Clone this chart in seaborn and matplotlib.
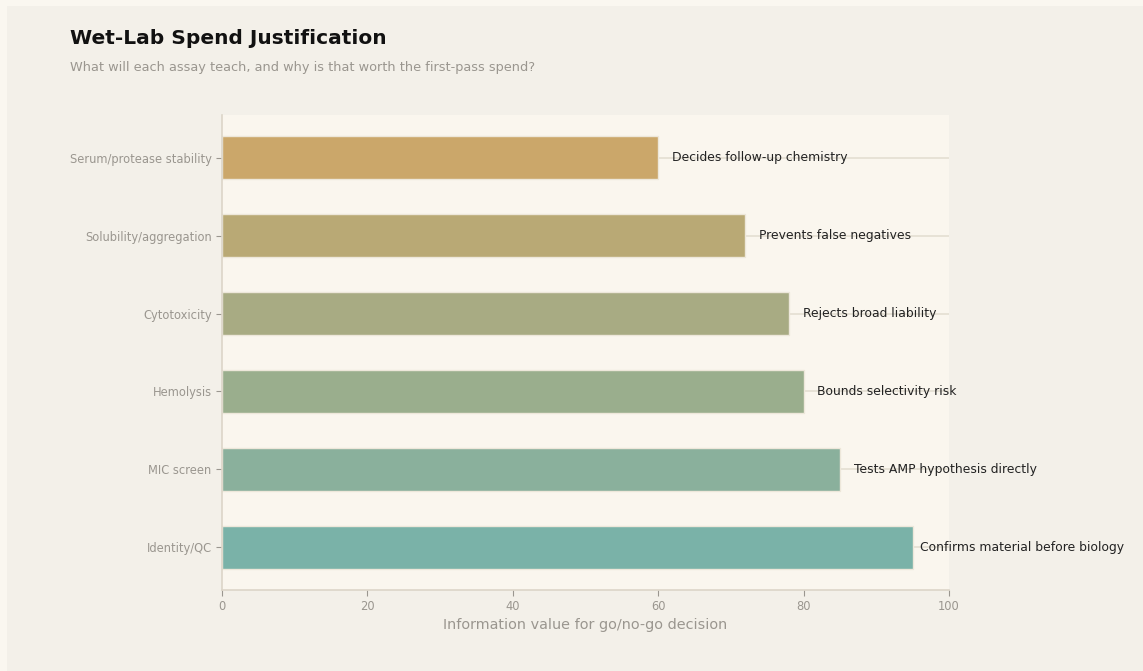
import matplotlib
matplotlib.use("Agg")
import matplotlib.pyplot as plt
import seaborn as sns
import pandas as pd
from matplotlib.patches import Rectangle

assays = ["Serum/protease stability", "Solubility/aggregation", "Cytotoxicity",
          "Hemolysis", "MIC screen", "Identity/QC"]
values = [60, 72, 78, 80, 85, 95]
notes = ["Decides follow-up chemistry", "Prevents false negatives", "Rejects broad liability",
         "Bounds selectivity risk", "Tests AMP hypothesis directly", "Confirms material before biology"]
colors = ["#CBA76A", "#B9A975", "#A8AB83", "#9AAE8D", "#8AB09C", "#7AB2A8"]

df = pd.DataFrame({"assay": assays, "value": values})

sns.set_theme(style="white")
plt.rcParams['font.family'] = ['DejaVu Sans']

fig = plt.figure(figsize=(11.43, 6.71), dpi=100, facecolor="#FAF7F0")
bg = Rectangle((7/1143, 0), 1, 665/671, transform=fig.transFigure,
               facecolor="#F3F0E9", edgecolor="none", zorder=-10)
fig.add_artist(bg)
ax = fig.add_axes([222/1143, 1 - 590/671, (949-222)/1143, (590-115)/671])
ax.set_zorder(1)
ax.set_facecolor("#FAF6EE")

for i in range(len(assays)):
    ax.axhline(i, color="#E4DED2", lw=1.2, zorder=0)

sns.barplot(data=df, y="assay", x="value", hue="assay", palette=colors, legend=False,
            orient="h", width=0.55, saturation=1, ax=ax, edgecolor="#EDE7DA", linewidth=1, zorder=2)

for i, (v, t) in enumerate(zip(values, notes)):
    ax.text(min(v + 1.9, 96), i, t, va="center", ha="left", fontsize=8.9, color="#222222", zorder=3)

ax.set_xlim(0, 100)
ax.set_ylim(5.55, -0.55)
ax.set_xticks([0, 20, 40, 60, 80, 100])
ax.set_ylabel("")
ax.set_xlabel("Information value for go/no-go decision", fontsize=10.4, color="#9A968F", labelpad=3)
ax.tick_params(axis="both", colors="#9A968F", labelsize=8.3, length=4, width=0.8, left=True, bottom=True)
for s in ["top", "right"]:
    ax.spines[s].set_visible(False)
for s in ["left", "bottom"]:
    ax.spines[s].set_color("#DCD5C8")
    ax.spines[s].set_linewidth(1.2)

fig.text(70/1143, 1 - 38/671, "Wet-Lab Spend Justification", fontsize=14.5, fontweight="bold",
         color="#111111", va="center", ha="left")
fig.text(70/1143, 1 - 68/671, "What will each assay teach, and why is that worth the first-pass spend?",
         fontsize=9.3, color="#9A968F", va="center", ha="left")

fig.savefig("out.png", dpi=100, facecolor=fig.get_facecolor())
